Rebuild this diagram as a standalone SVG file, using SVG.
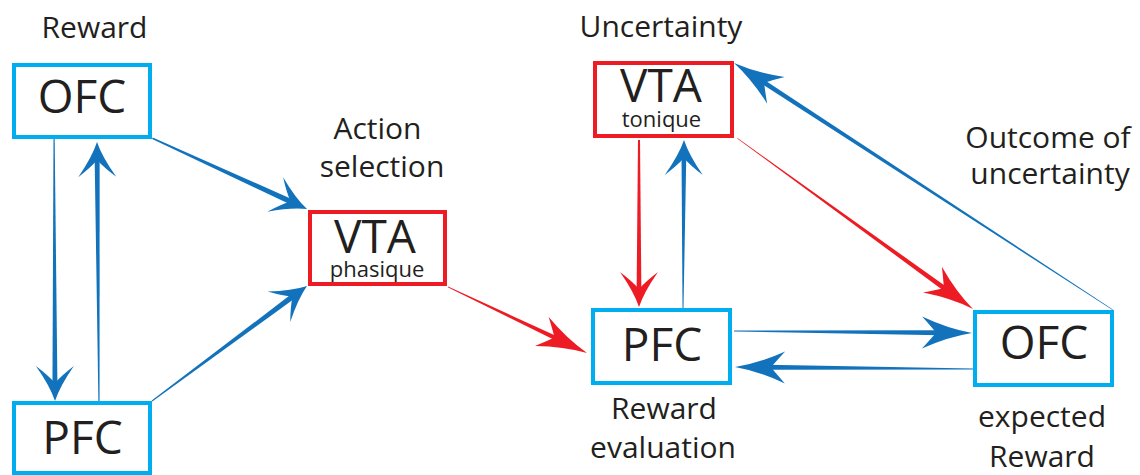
<svg xmlns="http://www.w3.org/2000/svg" xmlns:xlink="http://www.w3.org/1999/xlink" width="1140" height="475" viewBox="0 0 1140 475">
<defs>
<style>
.box{fill:#fff;stroke-width:4}
.cy{stroke:#00AEEF}
.rd{stroke:#ED1C24}
.t{font-family:"Open Sans","Noto Sans",sans-serif;fill:#231F20;text-anchor:middle}
.big{font-size:46px}
.sub{font-size:22px}
.lab{font-size:30px}
.b{fill:#1273BC}
.r{fill:#ED1C24}
</style>
<path id="hs" d="M0,0 Q-15,-5 -35,-19 Q-25,-6 -18,0 Q-25,6 -35,19 Q-15,5 0,0Z"/>
<path id="hl" d="M0,0 Q-24,-4 -50,-16 Q-40,-5 -36,0 Q-40,5 -50,16 Q-24,4 0,0Z"/>
</defs>
<rect width="1140" height="475" fill="#fff"/>

<g id="connectors">
<g class="b" transform="translate(55,401) rotate(89.8)"><polygon points="-262,-0.6 -14,-2.5 -14,2.5 -262,0.6"/><use href="#hs"/></g>
<g class="b" transform="translate(97,142) rotate(-90.44)"><polygon points="-259,-0.6 -14,-2.5 -14,2.5 -259,0.6"/><use href="#hs"/></g>
<g class="b" transform="translate(307,209) rotate(24.6)"><polygon points="-170,-0.8 -14,-2.8 -14,2.8 -170,0.8"/><use href="#hs"/></g>
<g class="b" transform="translate(307,286) rotate(-36.57)"><polygon points="-193,-0.5 -14,-2.8 -14,2.8 -193,0.5"/><use href="#hs"/></g>
<g class="r" transform="translate(587,353) rotate(25.4)"><polygon points="-154,-0.4 -32,-2.3 -32,2.3 -154,0.4"/><use href="#hl"/></g>
<g class="r" transform="translate(639,307) rotate(90)"><polygon points="-167,-1 -14,-2.4 -14,2.4 -167,1"/><use href="#hs"/></g>
<g class="b" transform="translate(684,140) rotate(-89.66)"><polygon points="-168,-0.5 -14,-2.4 -14,2.4 -168,0.5"/><use href="#hs"/></g>
<g class="r" transform="translate(973,309) rotate(35.92)"><polygon points="-291,-0.3 -32,-2.4 -32,2.4 -291,0.3"/><use href="#hl"/></g>
<g class="b" transform="translate(734,63) rotate(213.09)"><polygon points="-452,-0.3 -32,-2.4 -32,2.4 -452,0.3"/><use href="#hl"/></g>
<g class="b" transform="translate(972,333) rotate(0.48)"><polygon points="-238,-0.4 -32,-2.4 -32,2.4 -238,0.4"/><use href="#hl"/></g>
<g class="b" transform="translate(735,367) rotate(180.48)"><polygon points="-238,-0.4 -32,-2.4 -32,2.4 -238,0.4"/><use href="#hl"/></g>
</g>

<g id="ofc-left">
<rect class="box cy" x="14" y="65" width="136" height="72"/>
<text class="t big" x="82" y="113">OFC</text>
</g>
<g id="pfc-left">
<rect class="box cy" x="14" y="403" width="136" height="70"/>
<text class="t big" x="82.5" y="454">PFC</text>
</g>
<g id="vta-phasique">
<rect class="box rd" x="310" y="212" width="135" height="72"/>
<text class="t big" x="375" y="253">VTA</text>
<text class="t sub" x="377" y="277">phasique</text>
</g>
<g id="vta-tonique">
<rect class="box rd" x="595" y="63" width="137" height="73"/>
<text class="t big" x="661" y="102">VTA</text>
<text class="t sub" x="661.5" y="127">tonique</text>
</g>
<g id="pfc-right">
<rect class="box cy" x="593" y="310" width="137" height="73"/>
<text class="t big" x="662" y="361">PFC</text>
</g>
<g id="ofc-right">
<rect class="box cy" x="975" y="312" width="137" height="73"/>
<text class="t big" x="1044" y="359">OFC</text>
</g>

<g id="labels">
<text class="t lab" x="94.5" y="38">Reward</text>
<text class="t lab" x="377.5" y="139">Action</text>
<text class="t lab" x="382" y="177">selection</text>
<text class="t lab" x="661" y="37">Uncertainty</text>
<text class="t lab" x="1048" y="148">Outcome of</text>
<text class="t lab" x="1050" y="184">uncertainty</text>
<text class="t lab" x="664" y="419">Reward</text>
<text class="t lab" x="663" y="458">evaluation</text>
<text class="t lab" x="1042" y="427">expected</text>
<text class="t lab" x="1042" y="467">Reward</text>
</g>
</svg>
